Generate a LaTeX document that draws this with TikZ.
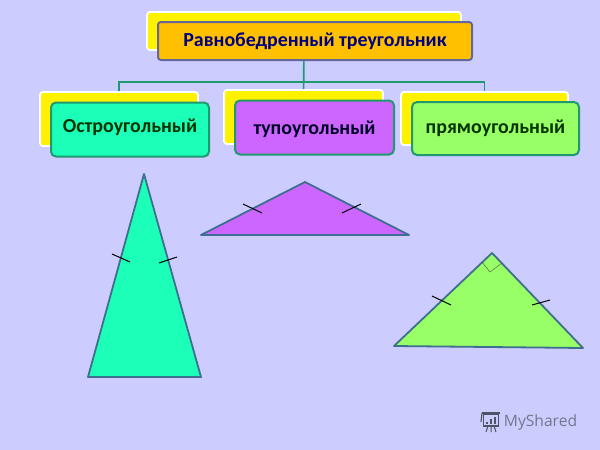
\documentclass[tikz,border=0pt]{standalone}
\usepackage{fontspec}
\setmainfont{Carlito}
\newfontfamily\markfont{Open Sans}
\usepackage{tikz}

\definecolor{slide}{HTML}{CCCCFF}
\definecolor{linkgreen}{HTML}{1F9A70}
\definecolor{frameblue}{HTML}{3F6F8F}
\definecolor{titleorange}{HTML}{FFC000}
\definecolor{acutegreen}{HTML}{1CFFB8}
\definecolor{obtusepurple}{HTML}{CC66FF}
\definecolor{rightgreen}{HTML}{99FF66}
\definecolor{markgray}{HTML}{6F7A8C}

\begin{document}
\begin{tikzpicture}[x=1pt, y=-1pt]
      \tikzstyle{back} = [
        rectangle,
        draw=white,
        line width=1.8pt,
        fill=yellow,
        rounded corners=3pt,
        inner sep=0pt
      ]

      \tikzstyle{title} = [
        rectangle,
        draw=gray!80!blue,
        line width=2pt,
        fill=titleorange,
        rounded corners=3pt,
        minimum width=314pt,
        minimum height=38pt,
        text=blue!50!black,
        font=\fontsize{19.9}{22}\selectfont\bfseries
      ]

      \tikzstyle{kind} = [
        rectangle,
        draw=linkgreen,
        line width=2pt,
        rounded corners=5pt,
        minimum height=54pt,
        text height=13pt,
        text depth=4pt,
        text=black!80!green,
        font=\fontsize{19.9}{22}\selectfont\bfseries
      ]

      \tikzstyle{link} = [
        draw=linkgreen,
        line width=1.6pt
      ]

      \tikzstyle{figure} = [
        draw=frameblue,
        line width=1.8pt,
        line join=round
      ]

      \tikzstyle{tick} = [
        draw=black,
        line width=1pt
      ]

      \fill[slide] (0,0) rectangle (600,450);

      \node[back, minimum width=314pt, minimum height=38pt] (titleback) at (304,31) {};
      \node[back, minimum width=158pt, minimum height=54pt] (acuteback) at (119,119) {};
      \node[back, minimum width=159pt, minimum height=54pt] (obtuseback) at (303.5,117) {};
      \node[back, minimum width=167pt, minimum height=53pt] (rightback) at (484.5,118.5) {};

      \coordinate (bus) at (304,82);
      \draw[link] (titleback) -- (obtuseback);
      \draw[link] (bus) -| (acuteback);
      \draw[link] (bus) -| (rightback);

      \node[title] (title) at (315,41) {Равнобедренный треугольник};
      \node[kind, fill=acutegreen, minimum width=158pt, text depth=7pt] (acute) at (130,129.5) {Остроугольный};
      \node[kind, fill=obtusepurple, minimum width=159pt, text=black!85!blue, text height=17pt] (obtuse) at (314.5,127.5) {тупоугольный};
      \node[kind, fill=rightgreen, minimum width=167pt, minimum height=53pt] (right) at (495.5,128.5) {прямоугольный};

      % triangles
      \draw[figure, fill=acutegreen] (144,174) -- (88,377) -- (201,377) -- cycle;
      \draw[tick] (112,254) -- (130,262);
      \draw[tick] (159,263) -- (177,257);

      \draw[figure, fill=obtusepurple] (305,182) -- (201,235) -- (409,235) -- cycle;
      \draw[tick] (243,204) -- (262,213);
      \draw[tick] (342,213) -- (361,204);

      \draw[figure, fill=rightgreen] (492,253) -- (394,346) -- (583,348) -- cycle;
      \draw[tick] (432,296) -- (451,305);
      \draw[tick] (532,305) -- (550,300);
      \draw[draw=black!70, line width=0.4pt] (482,262) -- (490,272) -- (502,263);

      % watermark
      \node[text=markgray, font=\markfont\fontsize{15.6}{18}\selectfont, inner sep=0pt] (myshared) at (540.5,422) {MyShared};
      \node[draw=markgray!70!black, line width=1.1pt, minimum width=15pt, minimum height=12pt, inner sep=0pt] (screen) at (491,420) {};
      \draw[markgray!70!black, line width=1.4pt] (482,413) -- (500,413);
      \draw[markgray!70!black, line width=1.1pt] (482,413) -- (481,422);
      \draw[markgray!70!black, line width=1.6pt] (487,424) -- (487,422) (491,424) -- (491,419) (495,424) -- (495,417);
      \draw[markgray!70!black, line width=1pt] (488,426) -- (486,432) (494,426) -- (496,432) (491,426) -- (491,432);
\end{tikzpicture}
\end{document}
